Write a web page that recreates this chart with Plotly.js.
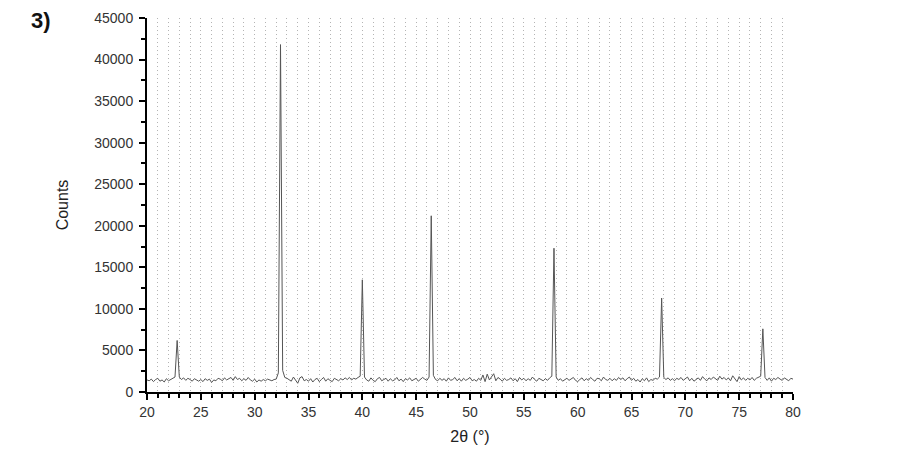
<!DOCTYPE html>
<html>
<head>
<meta charset="utf-8">
<script src="https://cdn.plot.ly/plotly-3.0.1.min.js"></script>
<style>
  html, body { margin: 0; padding: 0; background: #fff; }
  #chart { width: 898px; height: 471px; }
</style>
</head>
<body>
<div id="chart"></div>
<script>
/* ---------------- data (2theta 20..80, step 0.2) ---------------- */
var twoThetaStart = 20;
var twoThetaStep = 0.2;
var counts = [
  1450, 1350, 1550, 1250, 1500,   // 20
  1650, 1300, 1450, 1200, 1600,   // 21
  1350, 1500, 1650, 1800, 6200,   // 22
  1800, 1500, 1700, 1400, 1650,   // 23
  1500, 1300, 1600, 1400, 1300,   // 24
  1500, 1250, 1600, 1400, 1550,   // 25
  1150, 1450, 1350, 1650, 1550,   // 26
  1350, 1700, 1450, 1600, 1750,   // 27
  1400, 1850, 1500, 1650, 1350,   // 28
  1600, 1400, 1750, 1450, 1300,   // 29
  1550, 1200, 1450, 1300, 1500,   // 30
  1350, 1550, 1450, 1350, 1500,   // 31
  1550, 2300, 41800, 2600, 1750,  // 32
  1650, 1500, 1300, 1800, 1400,   // 33
  1050, 1700, 1850, 1350, 1500,   // 34
  1300, 1600, 1200, 1500, 1650,   // 35
  1250, 1500, 1750, 1300, 1600,   // 36
  1400, 1250, 1650, 1450, 1350,   // 37
  1600, 1450, 1700, 1500, 1750,   // 38
  1450, 1650, 1550, 1750, 1900,   // 39
  13500, 1800, 1450, 1300, 1700,  // 40
  1400, 1250, 1600, 1750, 1350,   // 41
  1500, 1650, 1300, 1600, 1350,   // 42
  1450, 1750, 1350, 1550, 1250,   // 43
  1600, 1450, 1700, 1350, 1500,   // 44
  1650, 1300, 1500, 1750, 1550,   // 45
  1400, 1800, 21200, 2000, 1500,  // 46
  1350, 1650, 1400, 1600, 1300,   // 47
  1700, 1400, 1500, 1750, 1350,   // 48
  1600, 1300, 1650, 1400, 1550,   // 49
  1750, 1350, 1500, 1300, 1650,   // 50
  1400, 2050, 1250, 2150, 1450,   // 51
  1850, 2200, 1350, 1750, 1550,   // 52
  1300, 1650, 1400, 1500, 1700,   // 53
  1350, 1600, 1250, 1750, 1450,   // 54
  1650, 1350, 1600, 1400, 1800,   // 55
  1500, 1300, 1650, 1450, 1350,   // 56
  1600, 1400, 1700, 1900, 17300,  // 57
  1800, 1400, 1600, 1300, 1500,   // 58
  1650, 1400, 1600, 1750, 1400,   // 59
  1250, 1500, 1700, 1350, 1600,   // 60
  1400, 1750, 1500, 1300, 1650,   // 61
  1600, 1350, 1800, 1500, 1400,   // 62
  1650, 1350, 1600, 1400, 1750,   // 63
  1500, 1700, 1350, 1600, 1800,   // 64
  1400, 1650, 1300, 1500, 1200,   // 65
  1600, 1350, 1700, 1250, 1500,   // 66
  1400, 1650, 1550, 1800, 11300,  // 67
  1750, 1500, 1700, 1400, 1600,   // 68
  1350, 1650, 1500, 1750, 1400,   // 69
  1600, 1800, 1350, 1650, 1300,   // 70
  1500, 1700, 1400, 1850, 1550,   // 71
  1350, 1700, 1500, 1800, 1600,   // 72
  1400, 1900, 1550, 1750, 1450,   // 73
  1700, 1350, 1950, 1550, 1250,   // 74
  1850, 1450, 1700, 1400, 1650,   // 75
  1450, 1750, 1400, 1650, 1800,   // 76
  1900, 7600, 1750, 1400, 1700,   // 77
  1300, 1650, 1500, 1750, 1550,   // 78
  1400, 1700, 1500, 1350, 1650,   // 79
  1550                            // 80
];
/* ------------------------------------------------------------------------------------- */

var trace = {
  x0: twoThetaStart,
  dx: twoThetaStep,
  y: counts,
  type: 'scatter',
  mode: 'lines',
  line: {color: '#555', width: 1},
  hoverinfo: 'x+y'
};

var fontFam = 'Liberation Sans, Arial, sans-serif';
var tickFont = {family: fontFam, size: 14, color: '#333'};
var gridDots = '1px,3px';

var layout = {
  width: 898,
  height: 471,
  margin: {l: 147, r: 105, t: 18, b: 79},
  paper_bgcolor: '#fff',
  plot_bgcolor: '#fff',
  showlegend: false,
  xaxis: {
    range: [20, 80],
    dtick: 5,
    tick0: 20,
    ticks: 'outside',
    ticklen: 6,
    tickwidth: 2,
    tickcolor: '#000',
    showline: true,
    linecolor: '#000',
    linewidth: 2,
    zeroline: false,
    showgrid: true,
    gridcolor: '#b4b4b4',
    griddash: gridDots,
    gridwidth: 1,
    minor: {
      dtick: 1,
      ticks: 'outside',
      ticklen: 4,
      tickwidth: 2,
      tickcolor: '#000',
      showgrid: true,
      gridcolor: '#b4b4b4',
      griddash: gridDots,
      gridwidth: 1
    },
    tickfont: tickFont,
    title: {text: '2θ (°)', font: {family: fontFam, size: 16, color: '#222'}, standoff: 12}
  },
  yaxis: {
    range: [0, 45000],
    dtick: 5000,
    tickformat: 'd',
    ticks: 'outside',
    ticklen: 6,
    tickwidth: 2,
    tickcolor: '#000',
    ticklabelstandoff: 3,
    showline: true,
    linecolor: '#000',
    linewidth: 2,
    zeroline: false,
    showgrid: false,
    minor: {dtick: 2500, ticks: 'outside', ticklen: 4, tickwidth: 2, tickcolor: '#000', showgrid: false},
    tickfont: tickFont,
    title: {text: 'Counts', font: {family: fontFam, size: 16, color: '#222'}, standoff: 22}
  },
  annotations: [{
    text: '<b>3)</b>',
    xref: 'paper', yref: 'paper',
    x: -0.164, y: 0.992,
    xanchor: 'center', yanchor: 'middle',
    showarrow: false,
    font: {family: fontFam, size: 22, color: '#111'}
  }]
};

Plotly.newPlot('chart', [trace], layout, {displayModeBar: false, staticPlot: true});
</script>
</body>
</html>
